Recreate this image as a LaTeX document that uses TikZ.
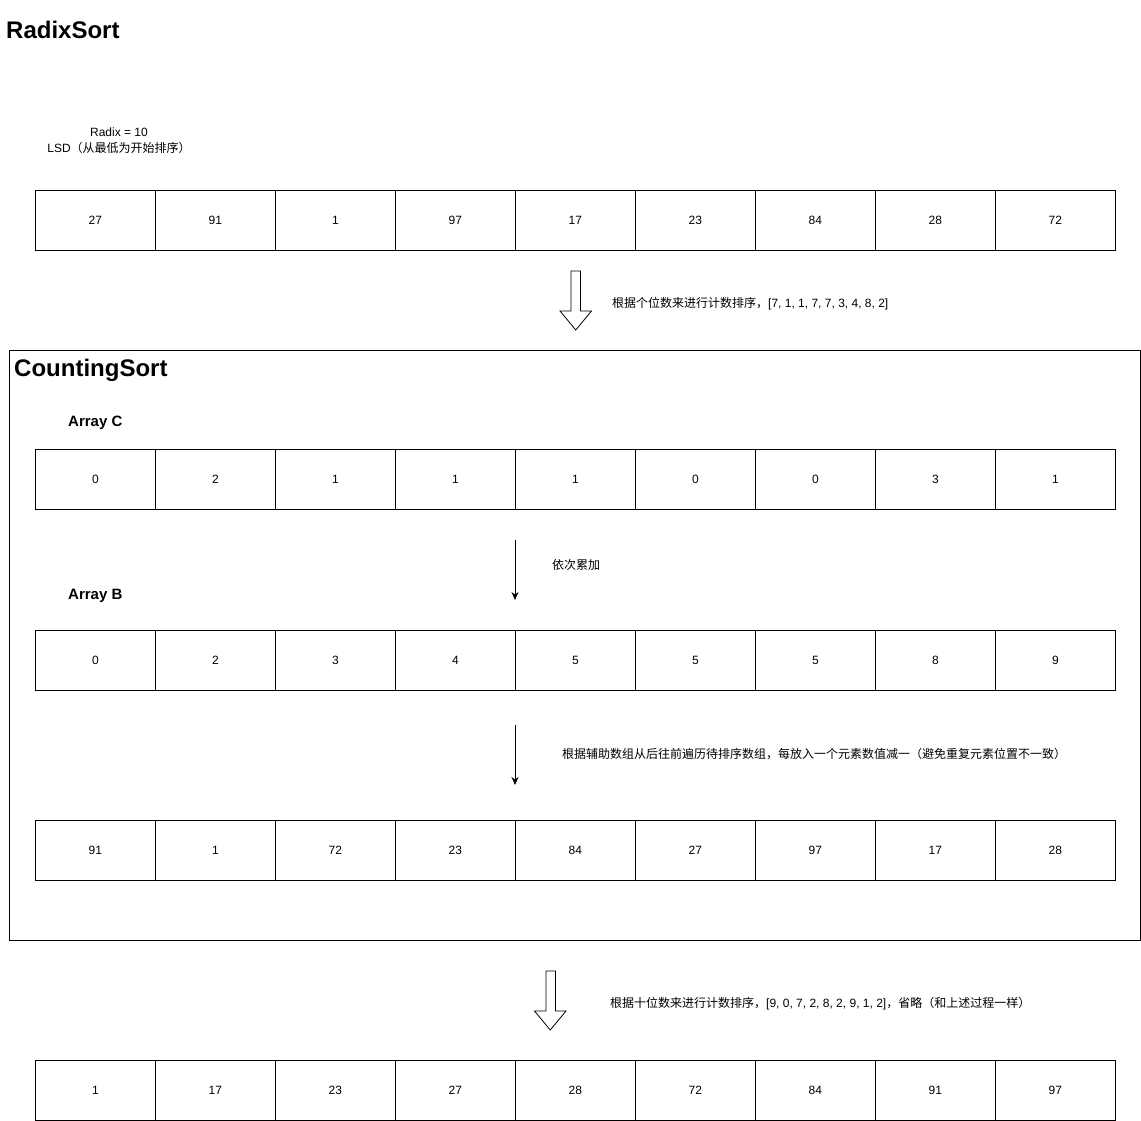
\documentclass[tikz,border=0pt]{standalone}
\usepackage{fontspec}
\setmainfont{Liberation Sans}
\newfontfamily\cjk{Noto Sans CJK SC}
\usetikzlibrary{arrows.meta}
\tikzset{
  cell/.style={draw, line width=0.8pt, minimum width=120pt, minimum height=60pt, inner sep=0pt, anchor=north west, font=\fontsize{12}{14}\selectfont},
  title/.style={anchor=west, inner sep=0pt, font=\fontsize{24}{28}\selectfont\bfseries},
  sub/.style={anchor=west, inner sep=0pt, font=\fontsize{15}{17}\selectfont\bfseries},
  lbl/.style={anchor=west, inner sep=0pt, font=\fontsize{12}{14}\selectfont},
  thinarrow/.style={draw, line width=0.8pt, -{Stealth[length=8pt,width=7pt]}},
  blockarrow/.style={draw, line width=0.8pt, fill=white}
}
\begin{document}
\begin{tikzpicture}[x=1pt,y=-1pt]
\useasboundingbox (0,0) rectangle (1141,1121);
% titles
\node[title] (radixtitle) at (6,30) {RadixSort};
\node[align=center, inner sep=0pt, font=\fontsize{12}{16}\selectfont] (radixinfo) at (119,141) {Radix = 10\\LSD{\cjk （从最低为开始排序）}};
% row 1
\foreach \v [count=\i] in {27,91,1,97,17,23,84,28,72}
  \node[cell] (a\i) at ({35+120*(\i-1)},190) {\v};
% block arrow 1
\draw[blockarrow] (571,271) -- (580.5,271) -- (580.5,311) -- (591.5,311) -- (575.75,330) -- (560,311) -- (571,311) -- cycle;
\node[lbl] (t1) at (612,304) {{\cjk 根据个位数来进行计数排序，}[7, 1, 1, 7, 7, 3, 4, 8, 2]};
% counting sort frame
\node[draw, line width=0.8pt, anchor=north west, minimum width=1131pt, minimum height=590pt, inner sep=0pt] (frame) at (9,350) {};
\node[title] (cstitle) at (14,370) {CountingSort};
\node[sub] (arrc) at (68,423) {Array C};
\foreach \v [count=\i] in {0,2,1,1,1,0,0,3,1}
  \node[cell] (c\i) at ({35+120*(\i-1)},449) {\v};
\coordinate (s1) at (515,540);
\coordinate (e1) at (515,600);
\draw[thinarrow] (s1) -- (e1);
\node[lbl] (t2) at (552,565) {\cjk 依次累加};
\node[sub] (arrb) at (68,596) {Array B};
\foreach \v [count=\i] in {0,2,3,4,5,5,5,8,9}
  \node[cell] (b\i) at ({35+120*(\i-1)},630) {\v};
\coordinate (s2) at (515,725);
\coordinate (e2) at (515,785);
\draw[thinarrow] (s2) -- (e2);
\node[lbl] (t3) at (562,754) {\cjk 根据辅助数组从后往前遍历待排序数组，每放入一个元素数值减一（避免重复元素位置不一致）};
\foreach \v [count=\i] in {91,1,72,23,84,27,97,17,28}
  \node[cell] (d\i) at ({35+120*(\i-1)},820) {\v};
% block arrow 2
\draw[blockarrow] (546,971) -- (555.5,971) -- (555.5,1011) -- (566,1011) -- (550.25,1030) -- (534.5,1011) -- (546,1011) -- cycle;
\node[lbl] (t4) at (610,1004) {{\cjk 根据十位数来进行计数排序，}[9, 0, 7, 2, 8, 2, 9, 1, 2]{\cjk ，省略（和上述过程一样）}};
\foreach \v [count=\i] in {1,17,23,27,28,72,84,91,97}
  \node[cell] (f\i) at ({35+120*(\i-1)},1060) {\v};
\end{tikzpicture}
\end{document}
